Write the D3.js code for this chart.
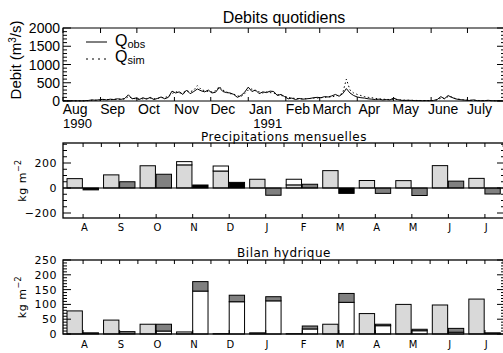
<!DOCTYPE html>
<html>
<head>
<meta charset="utf-8">
<script src="https://cdn.jsdelivr.net/npm/d3@7"></script>
<style>
body { margin: 0; background: #fff; }
text { font-family: "Liberation Sans", Arial, sans-serif; fill: #000; }
.hershey { font-family: "DejaVu Sans", sans-serif; letter-spacing: 0.5px; }
</style>
</head>
<body>
<svg width="503" height="353"></svg>
<script>
// Debits journaliers (un point tous les 3 jours a partir du 1er aout 1990), m3/s
const qObs = [10,8,8,6,6,5,8,15,30,20,35,45,30,50,40,60,45,70,170,60,80,40,90,50,100,40,70,110,60,100,
  270,220,250,180,300,200,260,330,280,250,300,220,240,370,260,230,220,180,100,150,240,380,260,300,200,250,230,270,260,150,
  180,120,60,80,40,70,50,60,70,90,100,90,120,110,140,180,130,200,340,220,150,110,90,80,60,50,40,50,30,40,
  30,80,40,20,15,20,15,10,10,8,10,8,15,40,120,60,150,100,60,40,30,20,15,30,10,8,8,20,8,6,8,5];
const qSim = [5,5,5,5,5,5,5,10,20,25,25,35,40,35,45,50,50,55,120,80,60,55,60,70,80,60,70,90,100,120,
  200,260,220,230,280,250,300,420,320,280,260,250,280,400,300,250,200,190,140,120,200,300,330,280,250,220,250,230,220,180,
  150,130,100,80,70,60,60,60,70,80,80,90,100,110,110,140,160,220,600,300,220,180,150,120,100,90,70,60,50,45,
  40,50,40,30,25,20,20,15,15,12,12,10,12,30,80,70,120,110,70,50,35,25,20,20,15,12,10,12,10,8,8,6];

const monthNames = ["Aug","Sep","Oct","Nov","Dec","Jan","Feb","March","Apr","May","June","July"];
const monthLetters = ["A","S","O","N","D","J","F","M","A","M","J","J"];

// Precipitations mensuelles (kg m-2)
const pluie = [75,105,178,185,136,70,25,139,60,59,179,77];
const neige = [0,0,0,26,40,0,45,0,0,0,0,0];
const soldeGris = [0,50,110,0,0,-58,30,0,-43,-60,55,-48];
const soldeNoir = [-15,0,0,24,45,0,0,-43,0,0,0,0];

// Bilan hydrique (kg m-2)
const etr = [78,47,33,7,1,4,1,33,69,100,98,118];
const ruissel = [0,0,10,145,109,112,17,107,28,11,6,0];
const drainage = [4,8,23,32,22,14,10,30,5,5,13,4];

const svg = d3.select("svg");
const L = 63, R = 505;

// ---------- Debits quotidiens ----------
const t0 = new Date(1990, 7, 1), t1 = new Date(1991, 7, 1);
const x1 = d3.scaleTime().domain([t0, t1]).range([L, R]);
const y1 = d3.scaleLinear().domain([0, 2000]).range([101, 28]);
const qDates = qObs.map((d, i) => d3.timeDay.offset(t0, i * 3));
const monthStarts = d3.timeMonth.range(t0, t1);

const gQ = svg.append("g");
gQ.append("rect").attr("x", L).attr("y", 28).attr("width", R - L).attr("height", 73)
  .attr("fill", "none").attr("stroke", "#000");

// ticks y
d3.range(0, 2001, 100).forEach(v => {
  const len = v % 500 === 0 ? 8 : 4;
  gQ.append("line").attr("x1", L).attr("x2", L + len).attr("y1", y1(v)).attr("y2", y1(v)).attr("stroke", "#000");
  gQ.append("line").attr("x1", R - len).attr("x2", R).attr("y1", y1(v)).attr("y2", y1(v)).attr("stroke", "#000");
});
[0, 500, 1000, 1500, 2000].forEach(v => {
  gQ.append("text").attr("x", 60).attr("y", y1(v)).attr("dy", "0.36em")
    .attr("text-anchor", "end").attr("font-size", 14).text(v);
});
monthStarts.forEach(m => {
  gQ.append("line").attr("x1", x1(m)).attr("x2", x1(m)).attr("y1", 28).attr("y2", 33).attr("stroke", "#000");
  gQ.append("line").attr("x1", x1(m)).attr("x2", x1(m)).attr("y1", 101).attr("y2", 97).attr("stroke", "#000");
});
monthStarts.forEach((m, i) => {
  gQ.append("text").attr("x", x1(d3.timeDay.offset(m, 10))).attr("y", 114)
    .attr("text-anchor", "middle").attr("font-size", 14).text(monthNames[i]);
});
gQ.append("text").attr("x", x1(t0)).attr("y", 128).attr("font-size", 13).text("1990");
gQ.append("text").attr("x", x1(new Date(1991, 0, 1)) + 5).attr("y", 128).attr("font-size", 13).text("1991");

gQ.append("text").attr("x", (L + R) / 2).attr("y", 23).attr("text-anchor", "middle")
  .attr("font-size", 16).text("Debits quotidiens");
gQ.append("text").attr("transform", "translate(21,60) rotate(-90)").attr("text-anchor", "middle")
  .attr("font-size", 15).html("Debit (m<tspan dy='-5' font-size='10'>3</tspan><tspan dy='5'>/s)</tspan>");

const line = d3.line().x((d, i) => x1(qDates[i])).y(d => y1(d));
gQ.append("path").datum(qSim).attr("d", line).attr("fill", "none")
  .attr("stroke", "#000").attr("stroke-dasharray", "1.5,2.5");
gQ.append("path").datum(qObs).attr("d", line).attr("fill", "none").attr("stroke", "#000");

// legende
gQ.append("line").attr("x1", 86).attr("x2", 107).attr("y1", 42).attr("y2", 42).attr("stroke", "#000");
gQ.append("line").attr("x1", 86).attr("x2", 107).attr("y1", 59).attr("y2", 59).attr("stroke", "#000")
  .attr("stroke-dasharray", "2,4");
gQ.append("text").attr("x", 115).attr("y", 46).attr("font-size", 16)
  .html("Q<tspan dy='2' font-size='11'>obs</tspan>");
gQ.append("text").attr("x", 115).attr("y", 62).attr("font-size", 16)
  .html("Q<tspan dy='2' font-size='11'>sim</tspan>");

// ---------- panneaux mensuels ----------
const xm = d3.scaleLinear().domain([0.45, 12.55]).range([L, R]);

function frame(g, y, yTop, yBot, majors, minorStep, title, titleY, letterY) {
  g.append("rect").attr("x", L).attr("y", yTop).attr("width", R - L).attr("height", yBot - yTop)
    .attr("fill", "none").attr("stroke", "#000").attr("stroke-width", 1.3);
  const [lo, hi] = y.domain();
  d3.range(Math.ceil(lo / minorStep) * minorStep, hi + 0.1, minorStep).forEach(v => {
    const len = majors.includes(v) ? 8 : 4;
    g.append("line").attr("x1", L).attr("x2", L + len).attr("y1", y(v)).attr("y2", y(v)).attr("stroke", "#000");
    g.append("line").attr("x1", R - len).attr("x2", R).attr("y1", y(v)).attr("y2", y(v)).attr("stroke", "#000");
  });
  majors.forEach(v => {
    g.append("text").attr("class", "hershey").attr("x", 57).attr("y", y(v)).attr("dy", "0.36em")
      .attr("text-anchor", "end").attr("font-size", 11).text(v < 0 ? "\u2212" + (-v) : v);
  });
  d3.range(1, 13).forEach(k => {
    g.append("line").attr("x1", xm(k)).attr("x2", xm(k)).attr("y1", yBot).attr("y2", yBot - 4).attr("stroke", "#000");
  });
  d3.range(1, 12.6, 0.5).forEach(k => {
    g.append("line").attr("x1", xm(k)).attr("x2", xm(k)).attr("y1", yTop).attr("y2", yTop + 4).attr("stroke", "#000");
  });
  monthLetters.forEach((m, i) => {
    g.append("text").attr("class", "hershey").attr("x", xm(i + 1) + 1.5).attr("y", letterY)
      .attr("text-anchor", "middle").attr("font-size", 10).text(m);
  });
  g.append("text").attr("class", "hershey").attr("x", (L + R) / 2).attr("y", titleY)
    .attr("text-anchor", "middle").attr("font-size", 12).text(title);
  g.append("text").attr("class", "hershey").attr("transform", `translate(26,${(yTop + yBot) / 2}) rotate(-90)`)
    .attr("text-anchor", "middle").attr("font-size", 11)
    .html("kg  m<tspan dy='-5' font-size='8'>\u22122</tspan>");
}

function bar(g, y, k, a, b, base, end, fill) {
  if (end === base) return;
  g.append("rect").attr("x", xm(k + a)).attr("width", xm(k + b) - xm(k + a))
    .attr("y", y(Math.max(base, end))).attr("height", Math.abs(y(base) - y(end)))
    .attr("fill", fill).attr("stroke", "#000").attr("stroke-width", 1);
}

// Precipitations mensuelles
const ym = d3.scaleLinear().domain([-240, 360]).range([218, 143]);
const gP = svg.append("g");
pluie.forEach((v, i) => {
  const k = i + 1;
  bar(gP, ym, k, -0.44, -0.02, 0, v, "#d9d9d9");
  bar(gP, ym, k, -0.44, -0.02, v, v + neige[i], "#fff");
  bar(gP, ym, k, 0.0, 0.42, 0, soldeGris[i], "#808080");
  bar(gP, ym, k, 0.0, 0.42, soldeGris[i], soldeGris[i] + soldeNoir[i], "#000");
});
gP.append("line").attr("x1", L).attr("x2", R).attr("y1", ym(0)).attr("y2", ym(0)).attr("stroke", "#000");
frame(gP, ym, 143, 218, [-200, 0, 200], 50, "Precipitations mensuelles", 141, 231);

// Bilan hydrique
const yb = d3.scaleLinear().domain([0, 250]).range([334, 260]);
const gB = svg.append("g");
etr.forEach((v, i) => {
  const k = i + 1;
  bar(gB, yb, k, -0.44, -0.02, 0, v, "#d9d9d9");
  bar(gB, yb, k, 0.0, 0.42, 0, ruissel[i], "#fff");
  bar(gB, yb, k, 0.0, 0.42, ruissel[i], ruissel[i] + drainage[i], "#808080");
});
frame(gB, yb, 260, 334, [0, 50, 100, 150, 200, 250], 10, "Bilan hydrique", 257, 348);
</script>
</body>
</html>
